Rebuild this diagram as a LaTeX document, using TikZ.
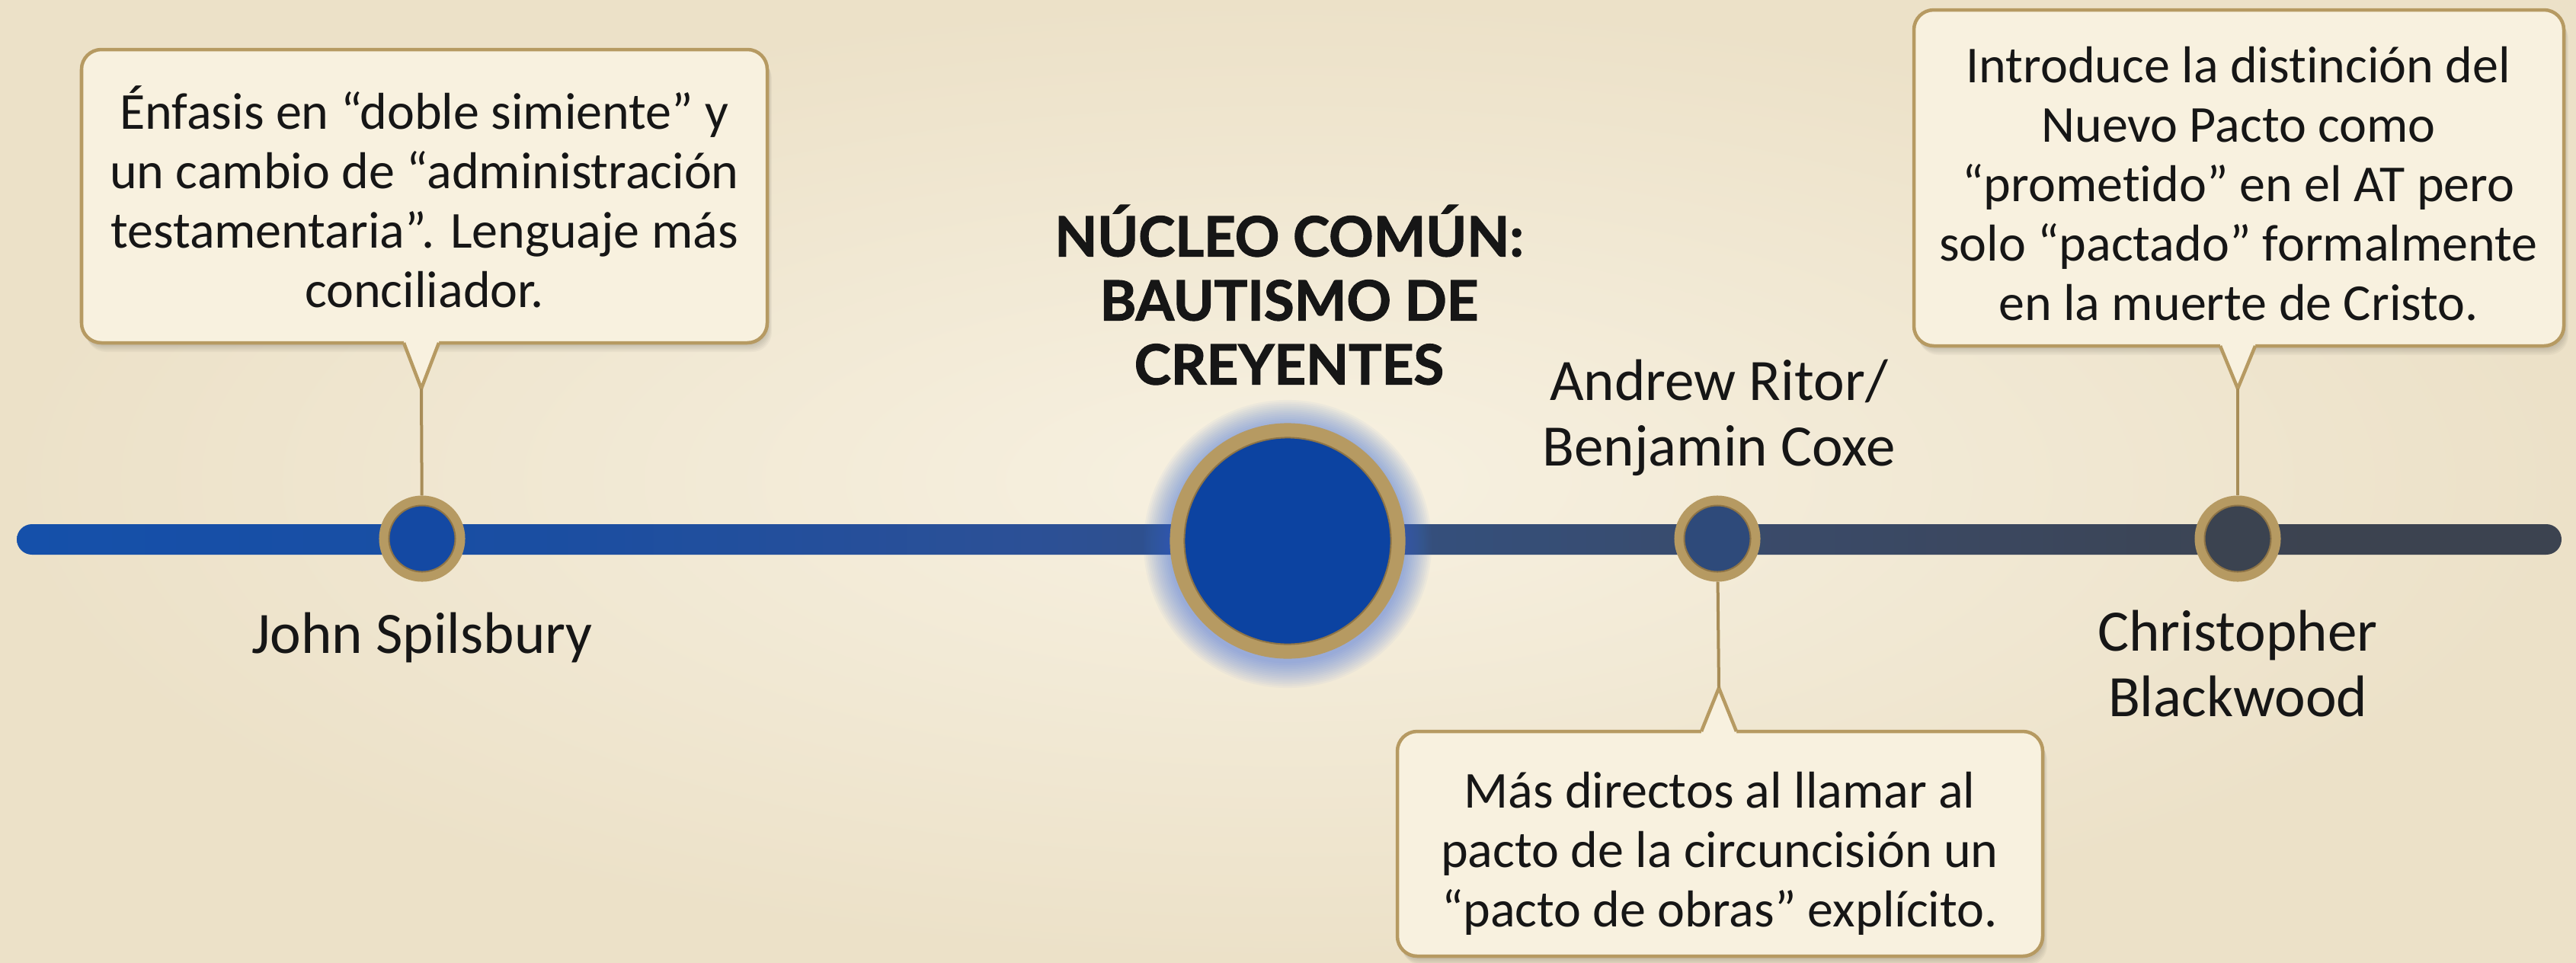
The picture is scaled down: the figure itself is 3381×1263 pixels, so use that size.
\documentclass[tikz,border=0pt]{standalone}
\usepackage{fontspec}
\setmainfont{Carlito}[Ligatures={NoCommon}]
\newfontfamily\headfont{Lato}[BoldFeatures={FakeBold=1.6}]
\usetikzlibrary{calc}
\definecolor{bgA}{HTML}{F7F1E1}
\definecolor{bgB}{HTML}{ECE1C8}
\definecolor{boxfill}{HTML}{F8F1DF}
\definecolor{gold}{HTML}{B69A62}
\definecolor{golddark}{HTML}{8E7446}
\definecolor{goldline}{HTML}{A88D58}
\definecolor{jsblue}{HTML}{1449A3}
\definecolor{bigblue}{HTML}{0C43A1}
\definecolor{arblue}{HTML}{2E4A7A}
\definecolor{cbgray}{HTML}{3B4350}
\definecolor{glowc}{HTML}{3A6CD8}
\definecolor{tA}{HTML}{1550AA}
\definecolor{tB}{HTML}{1A4EA2}
\definecolor{tC}{HTML}{2C5096}
\definecolor{tD}{HTML}{34507E}
\definecolor{tE}{HTML}{3A4A68}
\definecolor{tF}{HTML}{3C4350}
\definecolor{ink}{HTML}{161616}
\pgfdeclarehorizontalshading{timeline}{100bp}{color(0bp)=(tA); color(25bp)=(tA); color(35bp)=(tB); color(45bp)=(tC); color(52bp)=(tD); color(60bp)=(tE); color(70bp)=(tF); color(75bp)=(tF); color(100bp)=(tF)}
\tikzset{
  ev/.style={circle, draw=gold, line width=0.13cm, minimum size=1.0cm, inner sep=0pt},
  cbox/.style={fill=boxfill, draw=gold, line width=0.045cm, rounded corners=0.26cm},
  cedge/.style={draw=gold, line width=0.045cm},
  conn/.style={draw=goldline, line width=0.04cm},
  bevel/.style={draw=golddark, line width=0.02cm},
  body/.style={align=center, text=ink, font=\fontsize{19.35pt}{22.2pt}\selectfont, inner sep=0pt},
  who/.style={align=center, text=ink, font=\fontsize{21.9pt}{24.5pt}\selectfont, inner sep=0pt},
  head/.style={align=center, text=ink, font=\headfont\bfseries\fontsize{20.65pt}{23.9pt}\selectfont, inner sep=0pt}
}
% x1,y1,x2,y2,px,tip : pointer below box
\newcommand\calloutdown[6]{%
  \foreach \k in {1,...,6}{\fill[black,opacity=0.03,rounded corners=0.26cm] (#1+\k,#2+\k*2) rectangle (#3+\k,#4+\k*2);}
  \draw[cbox] (#1,#2) rectangle (#3,#4);
  \fill[boxfill] (#5-23,#4) -- (#5-23,#4-5) -- (#5+23,#4-5) -- (#5+23,#4) -- (#5,#6) -- cycle;
  \draw[cedge] (#5-23,#4) -- (#5,#6) -- (#5+23,#4);
}
% pointer above box
\newcommand\calloutup[6]{%
  \foreach \k in {1,...,6}{\fill[black,opacity=0.03,rounded corners=0.26cm] (#1+\k,#2+\k*2) rectangle (#3+\k,#4+\k*2);}
  \draw[cbox] (#1,#2) rectangle (#3,#4);
  \fill[boxfill] (#5-23,#2) -- (#5-23,#2+5) -- (#5+23,#2+5) -- (#5+23,#2) -- (#5,#6) -- cycle;
  \draw[cedge] (#5-23,#2) -- (#5,#6) -- (#5+23,#2);
}
\begin{document}
\begin{tikzpicture}[x=0.01cm,y=-0.01cm]
\useasboundingbox (0,0) rectangle (3381,1263);
\shade[inner color=bgA, outer color=bgB] (0,0) rectangle (3381,1263);

% timeline
\shade[shading=timeline, rounded corners=0.2cm] (22,688) rectangle (3362,728);

% glow of central node
\foreach \k in {1,...,14}{\fill[glowc,opacity=0.045] (1690,714) circle ({1.54cm+\k*0.025cm});}

% event nodes
\node[ev, fill=jsblue] (js) at (554,707) {};
\node[ev, fill=arblue] (ar) at (2254,707) {};
\node[ev, fill=cbgray] (cb) at (2937,707) {};
\node[circle, draw=gold, line width=0.19cm, minimum size=2.9cm, inner sep=0pt, fill=bigblue] (big) at (1690,710) {};
\draw[bevel] (js.center) circle (0.435cm);
\draw[bevel] (ar.center) circle (0.435cm);
\draw[bevel] (cb.center) circle (0.435cm);
\draw[bevel] (big.center) circle (1.355cm);

% callouts
\calloutdown{107}{65}{1007}{450}{553}{510}
\calloutdown{2512}{13}{3365}{454}{2937}{510}
\calloutup{1834}{960}{2681}{1255}{2256}{903}

\coordinate (tipA) at (553,510);
\coordinate (tipB) at (2937,510);
\coordinate (tipC) at (2256,903);
\draw[conn] (js) -- (tipA);
\draw[conn] (cb) -- (tipB);
\draw[conn] (ar) -- (tipC);

% callout texts
\node[body] (noteA) at (557,258) {Énfasis en “doble simiente” y\\un cambio de “administración\\testamentaria”. Lenguaje más\\conciliador.};
\node[body] (noteB) at (2938,241) {Introduce la distinción del\\Nuevo Pacto como\\“prometido” en el AT pero\\solo “pactado” formalmente\\en la muerte de Cristo.};
\node[body] (noteC) at (2257,1120) {Más directos al llamar al\\pacto de la circuncisión un\\“pacto de obras” explícito.};

% labels
\node[head] (core) at (1692,387) {NÚCLEO COMÚN:\\BAUTISMO DE\\CREYENTES};
\node[who, anchor=base] (jsl) at (554,857) {John Spilsbury};
\node[who] (arl) at (2256,548) {Andrew Ritor/\\Benjamin Coxe};
\node[who] (cbl) at (2937,871) {Christopher\\Blackwood};
\end{tikzpicture}
\end{document}
